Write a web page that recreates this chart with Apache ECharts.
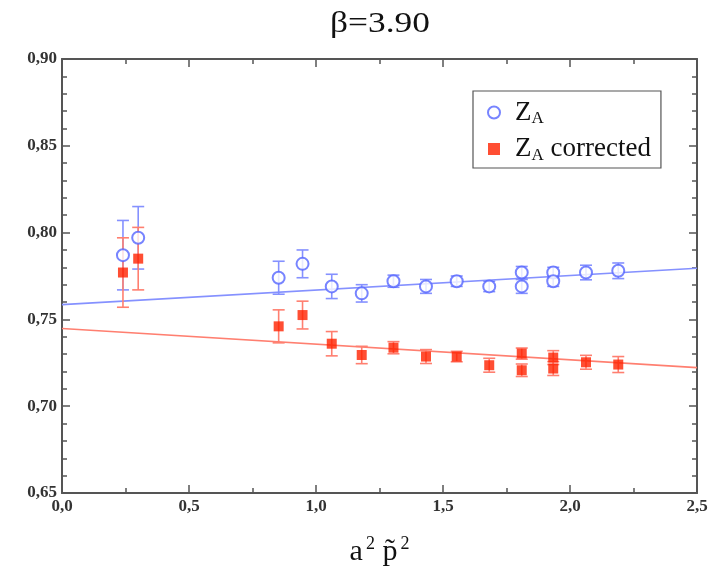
<!DOCTYPE html>
<html>
<head>
<meta charset="utf-8">
<script src="https://cdn.jsdelivr.net/npm/echarts@6/dist/echarts.min.js"></script>
<style>
  html, body { margin: 0; padding: 0; background: #fff; }
  #chart { width: 712px; height: 572px; }
</style>
</head>
<body>
<div id="chart"></div>
<script>
// measured points, a^2 p~^2 vs Z_A
const xVals = [0.24, 0.30, 0.853, 0.947, 1.062, 1.18, 1.305, 1.433, 1.554, 1.682, 1.81, 1.81, 1.934, 1.934, 2.063, 2.19]
const zaVals = [0.787, 0.797, 0.774, 0.782, 0.769, 0.765, 0.772, 0.769, 0.772, 0.769, 0.777, 0.769, 0.777, 0.772, 0.777, 0.778]
const zaErr = [0.020, 0.018, 0.0095, 0.008, 0.007, 0.005, 0.0035, 0.004, 0.003, 0.003, 0.0035, 0.004, 0.003, 0.003, 0.0042, 0.0045]
const corrVals = [0.777, 0.785, 0.746, 0.7525, 0.736, 0.7295, 0.7337, 0.7286, 0.7286, 0.7236, 0.7303, 0.7207, 0.728, 0.7217, 0.7253, 0.724]
const corrErr = [0.020, 0.018, 0.0095, 0.008, 0.007, 0.005, 0.0035, 0.004, 0.003, 0.004, 0.0032, 0.0036, 0.004, 0.004, 0.004, 0.0046]

// linear fits
const fitX = [0, 2.5]
const fitZa = [0.7585, 0.7795]
const fitCorr = [0.7448, 0.7222]

const blue = '#5565ff'
const blueLight = '#8591ff'
const red = '#ff2200'
const redLight = '#ff7f70'
const serif = 'Liberation Serif'

const chart = echarts.init(document.getElementById('chart'))

function errorBars(color, vals, errs) {
  return {
    type: 'custom',
    silent: true,
    z: 2,
    data: xVals.map((x, i) => [x, vals[i], errs[i]]),
    renderItem: function(params, api) {
      const x = api.value(0)
      const y = api.value(1)
      const e = api.value(2)
      const top = api.coord([x, y + e])
      const bot = api.coord([x, y - e])
      const w = 6
      const style = { stroke: color, lineWidth: 1.6 }
      return {
        type: 'group',
        children: [
          { type: 'line', shape: { x1: top[0], y1: top[1], x2: bot[0], y2: bot[1] }, style: style },
          { type: 'line', shape: { x1: top[0] - w, y1: top[1], x2: top[0] + w, y2: top[1] }, style: style },
          { type: 'line', shape: { x1: bot[0] - w, y1: bot[1], x2: bot[0] + w, y2: bot[1] }, style: style }
        ]
      }
    }
  }
}

// onZero off, otherwise the right y axis jumps onto x = 0
const axisLine = { show: true, onZero: false, lineStyle: { color: '#555', width: 2 } }
const tickStyle = { color: '#555', width: 1.5 }

function frameAxis(extra) {
  return Object.assign({
    type: 'value',
    axisLine: axisLine,
    axisTick: { show: true, inside: true, length: 8, lineStyle: tickStyle },
    splitLine: { show: false }
  }, extra)
}

const labelStyle = {
  fontFamily: serif,
  fontSize: 17,
  fontWeight: 'bold',
  color: '#333',
  margin: 5
}

chart.setOption({
  animation: false,
  graphic: [
    {
      type: 'text',
      x: 380,
      y: 24,
      scaleX: 1.22,
      style: {
        text: 'β=3.90',
        fontFamily: serif,
        fontSize: 29,
        fill: '#111',
        align: 'center',
        verticalAlign: 'middle'
      }
    }
  ],
  grid: { left: 62, right: 15, top: 59, bottom: 78 },
  legend: {
    orient: 'vertical',
    left: 473,
    top: 91,
    padding: [8, 10, 4, 14],
    itemGap: 8,
    itemWidth: 12,
    itemHeight: 12,
    borderColor: '#555',
    borderWidth: 1.2,
    data: ['ZA', 'ZA corrected'],
    formatter: function(name) {
      return name === 'ZA' ? '{z|Z}{s|A}' : '{z|Z}{s|A}{z| corrected}'
    },
    textStyle: {
      color: '#111',
      padding: [0, 0, 0, 10],
      rich: {
        z: { fontFamily: serif, fontSize: 27, color: '#111' },
        s: { fontFamily: serif, fontSize: 17, color: '#111', padding: [13, 0, 0, 0] }
      }
    }
  },
  xAxis: [
    frameAxis({
      min: 0,
      max: 2.5,
      interval: 0.5,
      minorTick: { show: true, splitNumber: 2, length: 5, lineStyle: tickStyle },
      name: '{a|a}{s|2}{a| p̃}{s|2}',
      nameLocation: 'middle',
      nameGap: 42,
      nameTextStyle: {
        rich: {
          a: { fontFamily: serif, fontSize: 30, color: '#111' },
          s: { fontFamily: serif, fontSize: 18, color: '#111', padding: [0, 0, 16, 3] }
        }
      },
      axisLabel: Object.assign({}, labelStyle, { formatter: v => v.toFixed(1).replace('.', ',') })
    }),
    frameAxis({
      position: 'top',
      min: 0,
      max: 2.5,
      interval: 0.5,
      minorTick: { show: true, splitNumber: 2, length: 5, lineStyle: tickStyle },
      axisLabel: { show: false }
    })
  ],
  yAxis: [
    frameAxis({
      min: 0.65,
      max: 0.90,
      interval: 0.05,
      minorTick: { show: true, splitNumber: 5, length: 5, lineStyle: tickStyle },
      axisLabel: Object.assign({}, labelStyle, { formatter: v => v.toFixed(2).replace('.', ',') })
    }),
    frameAxis({
      position: 'right',
      min: 0.65,
      max: 0.90,
      interval: 0.05,
      minorTick: { show: true, splitNumber: 5, length: 5, lineStyle: tickStyle },
      axisLabel: { show: false }
    })
  ],
  series: [
    {
      name: 'fit ZA',
      type: 'line',
      data: fitX.map((x, i) => [x, fitZa[i]]),
      showSymbol: false,
      lineStyle: { color: blueLight, width: 1.6 },
      silent: true,
      z: 1
    },
    {
      name: 'fit corrected',
      type: 'line',
      data: fitX.map((x, i) => [x, fitCorr[i]]),
      showSymbol: false,
      lineStyle: { color: redLight, width: 1.6 },
      silent: true,
      z: 1
    },
    errorBars(blueLight, zaVals, zaErr),
    errorBars(redLight, corrVals, corrErr),
    {
      name: 'ZA',
      type: 'scatter',
      data: xVals.map((x, i) => [x, zaVals[i]]),
      symbol: 'emptyCircle',
      symbolSize: 12,
      itemStyle: { color: blue, borderColor: blue, borderWidth: 1.8 },
      z: 3
    },
    {
      name: 'ZA corrected',
      type: 'scatter',
      data: xVals.map((x, i) => [x, corrVals[i]]),
      symbol: 'rect',
      symbolSize: 10,
      itemStyle: { color: red },
      z: 3
    }
  ]
})
</script>
</body>
</html>
